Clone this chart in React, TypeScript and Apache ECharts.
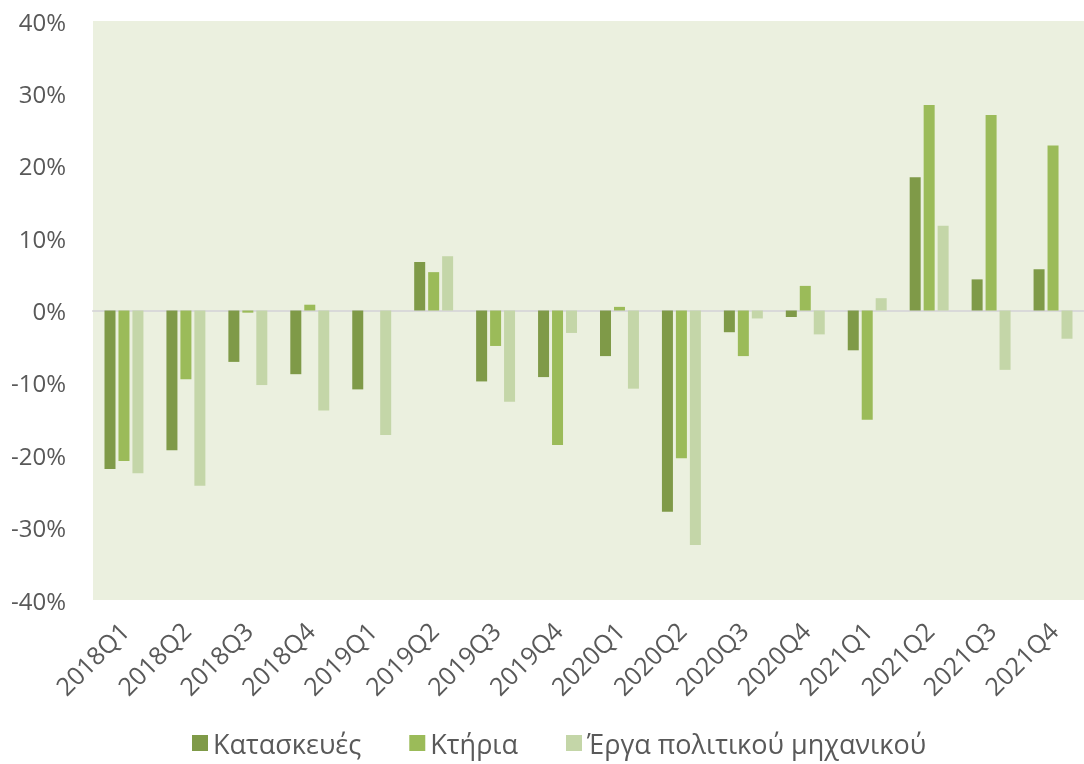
import React, { useEffect, useRef } from "react";
import * as echarts from "echarts";

const categories = ["2018Q1","2018Q2","2018Q3","2018Q4","2019Q1","2019Q2","2019Q3","2019Q4","2020Q1","2020Q2","2020Q3","2020Q4","2021Q1","2021Q2","2021Q3","2021Q4"];
const construction = [-21.9,-19.3,-7.1,-8.8,-10.9,6.7,-9.8,-9.2,-6.3,-27.8,-3.0,-0.9,-5.5,18.4,4.3,5.7];
const buildings = [-20.8,-9.5,-0.3,0.8,0,5.3,-4.9,-18.6,0.5,-20.4,-6.3,3.4,-15.1,28.4,27.0,22.8];
const civilEng = [-22.5,-24.2,-10.3,-13.8,-17.2,7.5,-12.6,-3.1,-10.8,-32.4,-1.1,-3.3,1.7,11.7,-8.2,-3.9];
const seriesNames = ["Κατασκευές","Κτήρια","Έργα πολιτικού μηχανικού"];
const colors = ["#7F9A48","#9BBB59","#C4D6A8"];

export default function App() {
  const ref = useRef<HTMLDivElement>(null);
  useEffect(() => {
    const chart = echarts.init(ref.current!, null, { renderer: "svg" });
    const font = "Open Sans";
    const data = [construction, buildings, civilEng];
    chart.setOption({
      animation: false,
      color: colors,
      grid: { left: 93, right: 0, top: 21, bottom: 164, show: true, backgroundColor: "#EBF0DF", borderWidth: 0 },
      legend: {
        top: 728,
        left: 192,
        padding: 0,
        itemWidth: 16,
        itemHeight: 16,
        itemGap: 48,
        icon: "rect",
        textStyle: { fontFamily: font, fontSize: 27, lineHeight: 30, color: "#595959" },
        data: seriesNames,
      },
      xAxis: {
        type: "category",
        data: categories,
        axisLine: { show: true, onZero: true, lineStyle: { color: "#D9D9D9", width: 2 } },
        axisTick: { show: false },
        axisLabel: { rotate: 45, fontFamily: font, fontSize: 25, color: "#595959", margin: 26, interval: 0 },
        position: "bottom",
      },
      yAxis: {
        type: "value",
        min: -40,
        max: 40,
        interval: 10,
        splitLine: { show: false },
        axisLine: { show: false },
        axisTick: { show: false },
        axisLabel: { formatter: "{value}%", fontFamily: font, fontSize: 24, color: "#595959", margin: 27 },
      },
      series: data.map((d, i) => ({
        name: seriesNames[i],
        type: "bar",
        data: d,
        barWidth: 11,
        barGap: "27%",
        itemStyle: { color: colors[i] },
      })),
    });
    return () => chart.dispose();
  }, []);
  return <div ref={ref} style={{ position: "fixed", left: 0, top: 0, width: 1084, height: 764 }} />;
}
